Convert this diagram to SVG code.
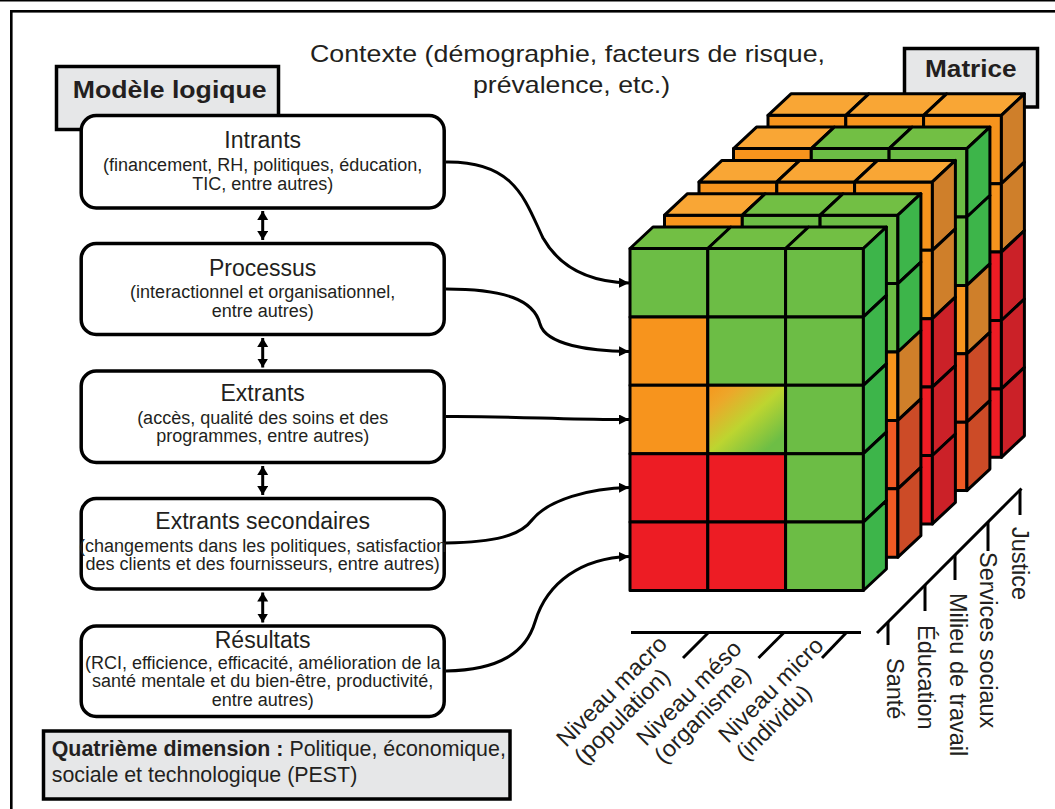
<svg xmlns="http://www.w3.org/2000/svg" xmlns:xlink="http://www.w3.org/1999/xlink" width="1055" height="809" viewBox="0 0 1055 809">
<style>
.t{font-family:"Liberation Sans",Arial,Helvetica,sans-serif;fill:#231f20}
.h{font-size:23px}
.s{font-size:18px}
.ax{font-size:23.5px}
.b{font-weight:bold}
.box{fill:#fff;stroke:#000;stroke-width:3.5}
.lbl{fill:#e6e7e8;stroke:#000;stroke-width:3.5}
.g,.gt,.gr,.o,.ot,.or,.r,.rr,.x,.xr,.m{stroke:#000;stroke-width:3;stroke-linejoin:round}
.g{fill:#6cbd45}.gt{fill:#72bf44}.gr{fill:#3db54a}
.o{fill:#f7941d}.ot{fill:#f9a635}.or{fill:#cf7f2a}
.r{fill:#ed1c24}.rr{fill:#cb2128}
.x{fill:#f15a24}.xr{fill:#cc4b27}
.m{fill:url(#mix)}
.conn{fill:none;stroke:#000;stroke-width:3}
.axis{stroke:#000;stroke-width:3;fill:none}
</style>
<defs>
<linearGradient id="mix" x1="0" y1="0" x2="1" y2="1">
<stop offset="0" stop-color="#f7961d"/>
<stop offset="0.2" stop-color="#eca82a"/>
<stop offset="0.5" stop-color="#bdd530"/>
<stop offset="0.85" stop-color="#6dbe45"/>
</linearGradient>
<marker id="ah" markerUnits="userSpaceOnUse" markerWidth="12" markerHeight="12" refX="10" refY="5" orient="auto">
<path d="M0,0 L10,5 L0,10 z" fill="#000"/>
</marker>
<marker id="dh" markerUnits="userSpaceOnUse" markerWidth="12" markerHeight="12" refX="9" refY="5.5" orient="auto-start-reverse">
<path d="M0,0 L9,5.5 L0,11 z" fill="#000"/>
</marker>
<g id="layerB">
<rect class="o" x="0" y="0" width="77.8" height="68.4"/>
<rect class="g" x="77.8" y="0" width="77.8" height="68.4"/>
<rect class="g" x="155.6" y="0" width="77.8" height="68.4"/>
<rect class="o" x="0" y="68.4" width="77.8" height="68.4"/>
<rect class="g" x="77.8" y="68.4" width="77.8" height="68.4"/>
<rect class="g" x="155.6" y="68.4" width="77.8" height="68.4"/>
<rect class="o" x="0" y="136.8" width="77.8" height="68.4"/>
<rect class="g" x="77.8" y="136.8" width="77.8" height="68.4"/>
<rect class="o" x="155.6" y="136.8" width="77.8" height="68.4"/>
<rect class="r" x="0" y="205.2" width="77.8" height="68.4"/>
<rect class="g" x="77.8" y="205.2" width="77.8" height="68.4"/>
<rect class="x" x="155.6" y="205.2" width="77.8" height="68.4"/>
<rect class="r" x="0" y="273.6" width="77.8" height="68.4"/>
<rect class="g" x="77.8" y="273.6" width="77.8" height="68.4"/>
<rect class="x" x="155.6" y="273.6" width="77.8" height="68.4"/>
<polygon class="ot" points="0,0 23,-21.5 100.8,-21.5 77.8,0"/>
<polygon class="gt" points="77.8,0 100.8,-21.5 178.6,-21.5 155.6,0"/>
<polygon class="gt" points="155.6,0 178.6,-21.5 256.4,-21.5 233.4,0"/>
<polygon class="gr" points="233.4,0 256.4,-21.5 256.4,46.9 233.4,68.4"/>
<polygon class="gr" points="233.4,68.4 256.4,46.9 256.4,115.3 233.4,136.8"/>
<polygon class="or" points="233.4,136.8 256.4,115.3 256.4,183.7 233.4,205.2"/>
<polygon class="xr" points="233.4,205.2 256.4,183.7 256.4,252.1 233.4,273.6"/>
<polygon class="xr" points="233.4,273.6 256.4,252.1 256.4,320.5 233.4,342"/>
</g>
<g id="layerC">
<rect class="o" x="0" y="0" width="77.8" height="68.4"/>
<rect class="o" x="77.8" y="0" width="77.8" height="68.4"/>
<rect class="o" x="155.6" y="0" width="77.8" height="68.4"/>
<rect class="o" x="0" y="68.4" width="77.8" height="68.4"/>
<rect class="o" x="77.8" y="68.4" width="77.8" height="68.4"/>
<rect class="o" x="155.6" y="68.4" width="77.8" height="68.4"/>
<rect class="r" x="0" y="136.8" width="77.8" height="68.4"/>
<rect class="r" x="77.8" y="136.8" width="77.8" height="68.4"/>
<rect class="r" x="155.6" y="136.8" width="77.8" height="68.4"/>
<rect class="r" x="0" y="205.2" width="77.8" height="68.4"/>
<rect class="r" x="77.8" y="205.2" width="77.8" height="68.4"/>
<rect class="r" x="155.6" y="205.2" width="77.8" height="68.4"/>
<rect class="r" x="0" y="273.6" width="77.8" height="68.4"/>
<rect class="r" x="77.8" y="273.6" width="77.8" height="68.4"/>
<rect class="r" x="155.6" y="273.6" width="77.8" height="68.4"/>
<polygon class="ot" points="0,0 23,-21.5 100.8,-21.5 77.8,0"/>
<polygon class="ot" points="77.8,0 100.8,-21.5 178.6,-21.5 155.6,0"/>
<polygon class="ot" points="155.6,0 178.6,-21.5 256.4,-21.5 233.4,0"/>
<polygon class="or" points="233.4,0 256.4,-21.5 256.4,46.9 233.4,68.4"/>
<polygon class="or" points="233.4,68.4 256.4,46.9 256.4,115.3 233.4,136.8"/>
<polygon class="rr" points="233.4,136.8 256.4,115.3 256.4,183.7 233.4,205.2"/>
<polygon class="rr" points="233.4,205.2 256.4,183.7 256.4,252.1 233.4,273.6"/>
<polygon class="rr" points="233.4,273.6 256.4,252.1 256.4,320.5 233.4,342"/>
</g>
</defs>

<rect width="1055" height="809" fill="#fff"/>
<line x1="0" y1="0.7" x2="1055" y2="0.7" stroke="#000" stroke-width="1.4"/>
<rect x="11.3" y="11.3" width="1100" height="900" fill="none" stroke="#000" stroke-width="2.6"/>

<g id="context">
<text class="t" x="310" y="61.5" font-size="24" textLength="515" lengthAdjust="spacingAndGlyphs">Contexte (démographie, facteurs de risque,</text>
<text class="t" x="473" y="93" font-size="24" textLength="197" lengthAdjust="spacingAndGlyphs">prévalence, etc.)</text>
</g>

<g id="modele-logique">
<rect class="lbl" x="56.5" y="66.5" width="222" height="63"/>
<text class="t b" x="72.7" y="97.7" font-size="24" textLength="194" lengthAdjust="spacingAndGlyphs">Modèle logique</text>
</g>

<g id="matrice-label">
<rect class="lbl" x="904.5" y="48.5" width="133" height="58.5"/>
<text class="t b" x="925" y="77.3" font-size="24" textLength="91.7" lengthAdjust="spacingAndGlyphs">Matrice</text>
</g>

<g id="intrants">
<rect class="box" x="81.2" y="115.5" width="363" height="92.5" rx="15"/>
<text class="t h" x="262.7" y="147.5" text-anchor="middle">Intrants</text>
<text class="t s" x="262.7" y="171" text-anchor="middle">(financement, RH, politiques, éducation,</text>
<text class="t s" x="262.7" y="189.5" text-anchor="middle">TIC, entre autres)</text>
</g>

<g id="processus">
<rect class="box" x="81.2" y="243.5" width="363" height="91" rx="15"/>
<text class="t h" x="262.7" y="276" text-anchor="middle">Processus</text>
<text class="t s" x="262.7" y="298.3" text-anchor="middle">(interactionnel et organisationnel,</text>
<text class="t s" x="262.7" y="316.7" text-anchor="middle">entre autres)</text>
</g>

<g id="extrants">
<rect class="box" x="81.2" y="371" width="363" height="91.5" rx="15"/>
<text class="t h" x="262.7" y="401" text-anchor="middle">Extrants</text>
<text class="t s" x="262.7" y="424" text-anchor="middle">(accès, qualité des soins et des</text>
<text class="t s" x="262.7" y="442.3" text-anchor="middle">programmes, entre autres)</text>
</g>

<g id="extrants-secondaires">
<rect class="box" x="81.2" y="498.5" width="363" height="90.5" rx="15"/>
<text class="t h" x="262.7" y="529" text-anchor="middle">Extrants secondaires</text>
<text class="t s" x="262.7" y="551.7" text-anchor="middle">(changements dans les politiques, satisfaction</text>
<text class="t s" x="262.7" y="570" text-anchor="middle">des clients et des fournisseurs, entre autres)</text>
</g>

<g id="resultats">
<rect class="box" x="81.2" y="626" width="363" height="90.5" rx="15"/>
<text class="t h" x="262.7" y="648.3" text-anchor="middle">Résultats</text>
<text class="t s" x="262.7" y="669" text-anchor="middle">(RCI, efficience, efficacité, amélioration de la</text>
<text class="t s" x="262.7" y="687.3" text-anchor="middle">santé mentale et du bien-être, productivité,</text>
<text class="t s" x="262.7" y="705.7" text-anchor="middle">entre autres)</text>
</g>

<g id="quatrieme-dimension">
<rect class="lbl" x="43.5" y="731" width="466.5" height="68"/>
<text class="t" x="51.7" y="756" font-size="21.4"><tspan class="b">Quatrième dimension :</tspan> Politique, économique,</text>
<text class="t" x="51.7" y="781.7" font-size="21.4">sociale et technologique (PEST)</text>
</g>

<g id="connectors">
<line class="conn" x1="262.7" y1="211" x2="262.7" y2="240" marker-start="url(#dh)" marker-end="url(#dh)"/>
<line class="conn" x1="262.7" y1="338" x2="262.7" y2="367.5" marker-start="url(#dh)" marker-end="url(#dh)"/>
<line class="conn" x1="262.7" y1="466" x2="262.7" y2="495" marker-start="url(#dh)" marker-end="url(#dh)"/>
<line class="conn" x1="262.7" y1="592.5" x2="262.7" y2="622.5" marker-start="url(#dh)" marker-end="url(#dh)"/>
<path class="conn" d="M446,162 C515,161 525,200 543,238 C560,268 590,282 629,283" marker-end="url(#ah)"/>
<path class="conn" d="M446,289 C505,289 534,300 540,324 C546,345 590,351 629,351.5" marker-end="url(#ah)"/>
<path class="conn" d="M446,416.5 C520,416 560,420 629,419.5" marker-end="url(#ah)"/>
<path class="conn" d="M446,543 C495,542 520,536 532,520 C548,500 590,488 629,487.5" marker-end="url(#ah)"/>
<path class="conn" d="M446,671 C500,670 526,652 535,622 C547,582 582,558 629,556.5" marker-end="url(#ah)"/>
</g>

<g id="matrix">
<use xlink:href="#layerC" transform="translate(768,115.3)"/>
<use xlink:href="#layerB" transform="translate(733.5,148.6)"/>
<use xlink:href="#layerC" transform="translate(699,181.9)"/>
<use xlink:href="#layerB" transform="translate(664.5,215.2)"/>
<g id="layer-front" transform="translate(630,248.5)">
<rect class="g" x="0" y="0" width="77.8" height="68.4"/>
<rect class="g" x="77.8" y="0" width="77.8" height="68.4"/>
<rect class="g" x="155.6" y="0" width="77.8" height="68.4"/>
<rect class="o" x="0" y="68.4" width="77.8" height="68.4"/>
<rect class="g" x="77.8" y="68.4" width="77.8" height="68.4"/>
<rect class="g" x="155.6" y="68.4" width="77.8" height="68.4"/>
<rect class="o" x="0" y="136.8" width="77.8" height="68.4"/>
<rect class="m" x="77.8" y="136.8" width="77.8" height="68.4"/>
<rect class="g" x="155.6" y="136.8" width="77.8" height="68.4"/>
<rect class="r" x="0" y="205.2" width="77.8" height="68.4"/>
<rect class="r" x="77.8" y="205.2" width="77.8" height="68.4"/>
<rect class="g" x="155.6" y="205.2" width="77.8" height="68.4"/>
<rect class="r" x="0" y="273.6" width="77.8" height="68.4"/>
<rect class="r" x="77.8" y="273.6" width="77.8" height="68.4"/>
<rect class="g" x="155.6" y="273.6" width="77.8" height="68.4"/>
<polygon class="gt" points="0,0 23,-21.5 100.8,-21.5 77.8,0"/>
<polygon class="gt" points="77.8,0 100.8,-21.5 178.6,-21.5 155.6,0"/>
<polygon class="gt" points="155.6,0 178.6,-21.5 256.4,-21.5 233.4,0"/>
<polygon class="gr" points="233.4,0 256.4,-21.5 256.4,46.9 233.4,68.4"/>
<polygon class="gr" points="233.4,68.4 256.4,46.9 256.4,115.3 233.4,136.8"/>
<polygon class="gr" points="233.4,136.8 256.4,115.3 256.4,183.7 233.4,205.2"/>
<polygon class="gr" points="233.4,205.2 256.4,183.7 256.4,252.1 233.4,273.6"/>
<polygon class="gr" points="233.4,273.6 256.4,252.1 256.4,320.5 233.4,342"/>
</g>
</g>

<g id="axis-levels">
<line class="axis" x1="631" y1="632.5" x2="861" y2="632.5"/>
<line class="axis" x1="708" y1="633" x2="683" y2="658"/>
<line class="axis" x1="783.5" y1="633" x2="758.5" y2="658"/>
<line class="axis" x1="846" y1="633" x2="822" y2="658"/>
<text class="t ax" transform="translate(566,748) rotate(-45)"><tspan x="0" y="0">Niveau macro</tspan><tspan x="0" y="25">(population)</tspan></text>
<text class="t ax" transform="translate(646,747) rotate(-45)"><tspan x="0" y="0">Niveau méso</tspan><tspan x="0" y="25">(organisme)</tspan></text>
<text class="t ax" transform="translate(728,744) rotate(-45)"><tspan x="0" y="0">Niveau micro</tspan><tspan x="0" y="25">(individu)</tspan></text>
</g>

<g id="axis-sectors">
<line class="axis" x1="877" y1="633" x2="1021.5" y2="488.5"/>
<line class="axis" x1="888" y1="622" x2="888" y2="645"/>
<line class="axis" x1="925" y1="585" x2="925" y2="611"/>
<line class="axis" x1="955" y1="555" x2="955" y2="580"/>
<line class="axis" x1="988" y1="522" x2="988" y2="551"/>
<line class="axis" x1="1020" y1="490" x2="1020" y2="515"/>
<text class="t ax" transform="translate(887,658) rotate(90)">Santé</text>
<text class="t ax" transform="translate(918,625) rotate(90)">Éducation</text>
<text class="t ax" transform="translate(950,593) rotate(90)">Milieu de travail</text>
<text class="t ax" transform="translate(980,552) rotate(90)">Services sociaux</text>
<text class="t ax" transform="translate(1012,527) rotate(90)">Justice</text>
</g>
</svg>
